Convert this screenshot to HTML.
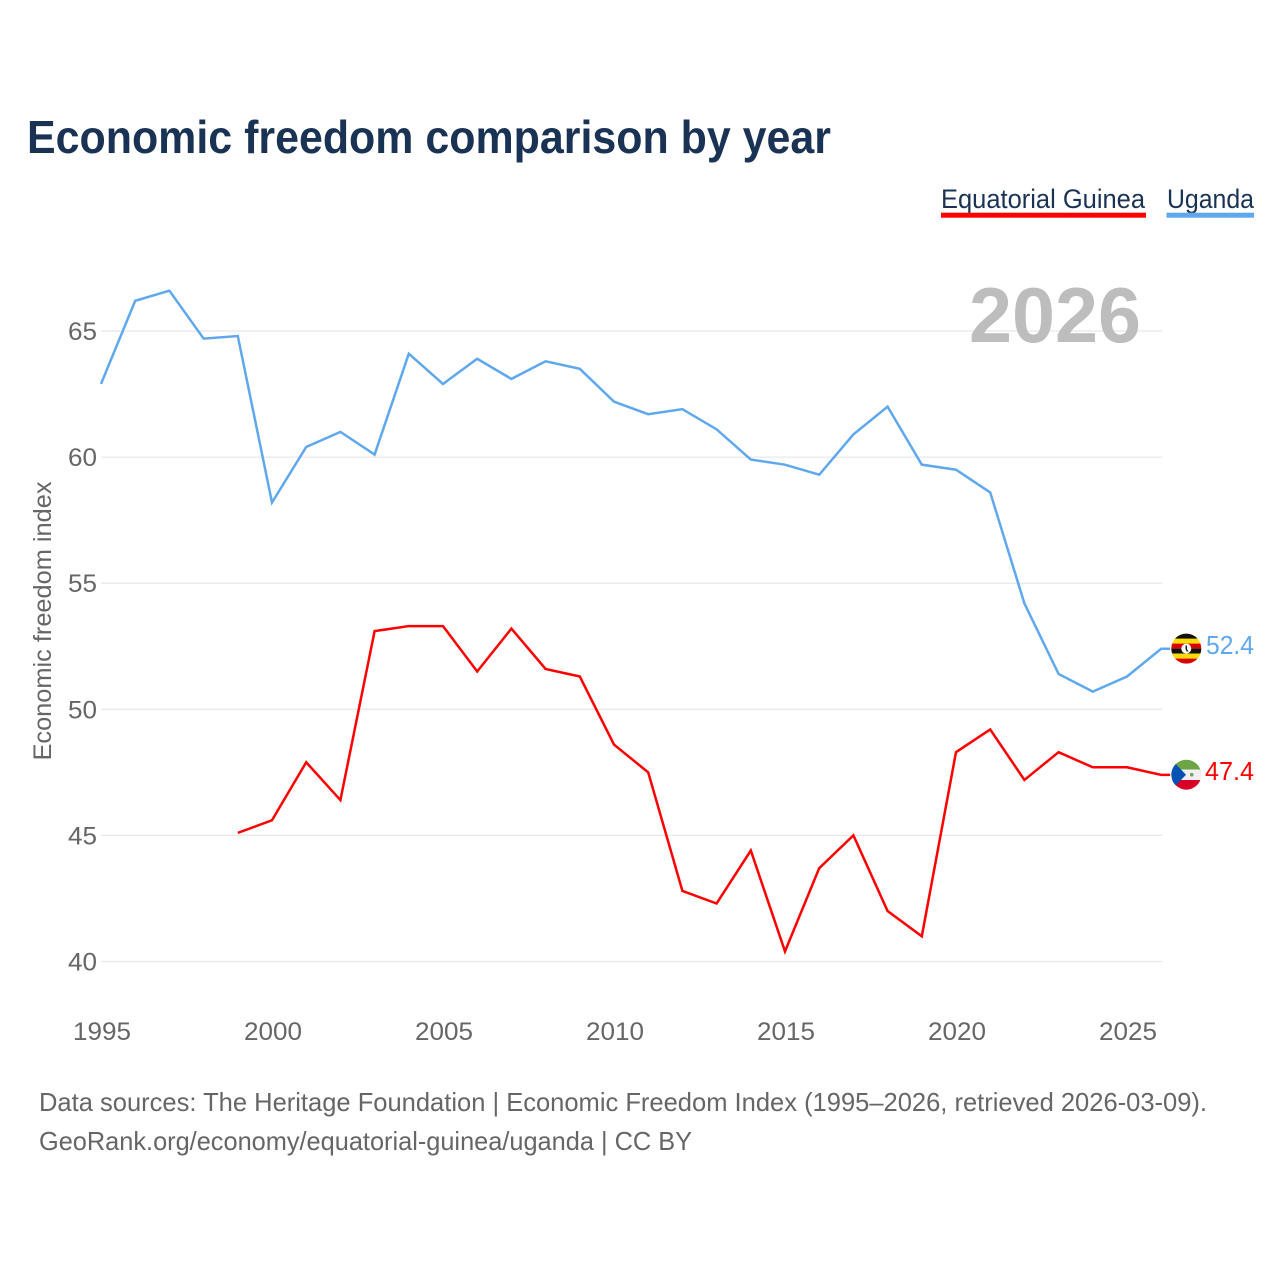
<!DOCTYPE html>
<html lang="en">
<head>
<meta charset="utf-8">
<title>Economic freedom comparison by year</title>
<style>
html,body{margin:0;padding:0;background:#fff}
svg{display:block}
text{font-family:"Liberation Sans",sans-serif}
</style>
</head>
<body>
<svg id="chart" xmlns="http://www.w3.org/2000/svg" width="1280" height="1280" viewBox="0 0 1280 1280">
  <defs>
    <clipPath id="clip-ug"><circle cx="1186.3" cy="648.6" r="15"></circle></clipPath>
    <clipPath id="clip-gq"><circle cx="1186.3" cy="774.7" r="15"></circle></clipPath>
  </defs>
  <rect width="1280" height="1280" fill="#ffffff"></rect>
  <text x="27" y="153" font-size="46" font-weight="700" fill="#1a3354" textLength="804" lengthAdjust="spacingAndGlyphs">Economic freedom comparison by year</text>

  <g>
    <text x="941" y="208" font-size="27" fill="#1a3354" textLength="204" lengthAdjust="spacingAndGlyphs">Equatorial Guinea</text>
    <rect x="941" y="212.7" width="205" height="5" fill="#ff0000"></rect>
  </g>
  <g>
    <text x="1167" y="208" font-size="27" fill="#1a3354" textLength="87" lengthAdjust="spacingAndGlyphs">Uganda</text>
    <rect x="1166.5" y="212.7" width="87.5" height="5" fill="#5fa8ee"></rect>
  </g>

  <g id="grid"></g>
  <text x="1141" y="342" text-anchor="end" font-size="78" font-weight="700" fill="#bdbdbd" textLength="172" lengthAdjust="spacingAndGlyphs">2026</text>
  <g id="y-ticks"></g>
  <g id="x-ticks"></g>
  <text transform="translate(51 621) rotate(-90)" text-anchor="middle" font-size="25" fill="#666666" textLength="279" lengthAdjust="spacingAndGlyphs">Economic freedom index</text>
  <g id="series"></g>

  <g id="flag-uganda" clip-path="url(#clip-ug)">
    <rect x="1171" y="633" width="31" height="6" fill="#111111"></rect>
    <rect x="1171" y="638.6" width="31" height="5" fill="#fcdc04"></rect>
    <rect x="1171" y="643.6" width="31" height="5" fill="#d90000"></rect>
    <rect x="1171" y="648.6" width="31" height="5" fill="#111111"></rect>
    <rect x="1171" y="653.6" width="31" height="5" fill="#fcdc04"></rect>
    <rect x="1171" y="658.6" width="31" height="6" fill="#d90000"></rect>
    <circle cx="1186.3" cy="648.6" r="5" fill="#ffffff"></circle>
    <path d="M1185.5 645.5 L1187 645.5 L1187 649 L1188.5 651.5 L1186.5 651.5 L1185.5 649 Z" fill="#222222"></path>
  </g>
  <g id="flag-eq-guinea" clip-path="url(#clip-gq)">
    <rect x="1171" y="759" width="31" height="10.5" fill="#6da544"></rect>
    <rect x="1171" y="769.5" width="31" height="10.5" fill="#f0f0f0"></rect>
    <rect x="1171" y="780" width="31" height="11" fill="#d80027"></rect>
    <path d="M1171 759 L1186 774.7 L1171 790.5 Z" fill="#0052b4"></path>
    <circle cx="1191.7" cy="774.7" r="1.8" fill="#7a9a6a"></circle>
  </g>
  <text id="label-ug" x="1254" y="654" text-anchor="end" font-size="26" fill="#5fa8ee" textLength="48" lengthAdjust="spacingAndGlyphs"></text>
  <text id="label-gq" x="1254" y="780" text-anchor="end" font-size="26" fill="#ff0000" textLength="49" lengthAdjust="spacingAndGlyphs"></text>

  <text x="39" y="1111" font-size="26" fill="#666666" textLength="1168" lengthAdjust="spacingAndGlyphs">Data sources: The Heritage Foundation | Economic Freedom Index (1995–2026, retrieved 2026-03-09).</text>
  <text x="39" y="1150" font-size="26" fill="#666666" textLength="653" lengthAdjust="spacingAndGlyphs">GeoRank.org/economy/equatorial-guinea/uganda | CC BY</text>
</svg>
<script>
const years = [1995,1996,1997,1998,1999,2000,2001,2002,2003,2004,2005,2006,2007,2008,2009,2010,2011,2012,2013,2014,2015,2016,2017,2018,2019,2020,2021,2022,2023,2024,2025,2026];
const ugandaValues = [62.9,66.2,66.6,64.7,64.8,58.2,60.4,61.0,60.1,64.1,62.9,63.9,63.1,63.8,63.5,62.2,61.7,61.9,61.1,59.9,59.7,59.3,60.9,62.0,59.7,59.5,58.6,54.2,51.4,50.7,51.3,52.4];
const eqGuineaValues = [null,null,null,null,45.1,45.6,47.9,46.4,53.1,53.3,53.3,51.5,53.2,51.6,51.3,48.6,47.5,42.8,42.3,44.4,40.4,43.7,45.0,42.0,41.0,48.3,49.2,47.2,48.3,47.7,47.7,47.4];
const yTickValues = [40,45,50,55,60,65];
const xTickValues = [1995,2000,2005,2010,2015,2020,2025];

const NS = 'http://www.w3.org/2000/svg';
function xScale(year){ return 101 + (year - 1995) * (1161.2 - 101) / 31; }
function yScale(value){ return 961.5 - (value - 40) * (961.5 - 331) / 25; }

const gridGroup = document.getElementById('grid');
const yTickGroup = document.getElementById('y-ticks');
yTickValues.forEach(function(v){
  const line = document.createElementNS(NS,'line');
  line.setAttribute('x1', 101);
  line.setAttribute('x2', 1162);
  line.setAttribute('y1', yScale(v));
  line.setAttribute('y2', yScale(v));
  line.setAttribute('stroke', '#e8e8e8');
  line.setAttribute('stroke-width', '1.3');
  
  
  gridGroup.appendChild(line);
  const t = document.createElementNS(NS,'text');
  t.setAttribute('x', 97);
  t.setAttribute('y', yScale(v) + 9);
  t.setAttribute('text-anchor', 'end');
  t.setAttribute('font-size', '25');
  t.setAttribute('fill', '#666666');
  t.setAttribute('textLength', '29');
  t.setAttribute('lengthAdjust', 'spacingAndGlyphs');
  t.textContent = v;
  
  
  yTickGroup.appendChild(t);
});

const xTickGroup = document.getElementById('x-ticks');
xTickValues.forEach(function(y){
  const t = document.createElementNS(NS,'text');
  t.setAttribute('x', xScale(y) + 1);
  t.setAttribute('y', 1040);
  t.setAttribute('text-anchor', 'middle');
  t.setAttribute('font-size', '25');
  t.setAttribute('fill', '#666666');
  t.setAttribute('textLength', '58');
  t.setAttribute('lengthAdjust', 'spacingAndGlyphs');
  t.textContent = y;
  
  
  xTickGroup.appendChild(t);
});

function linePath(values){
  let d = '';
  values.forEach(function(v, i){
    if (v === null) return;
    d += (d ? ' L' : 'M') + xScale(years[i]).toFixed(2) + ' ' + yScale(v).toFixed(2);
  });
  const last = values[values.length - 1];
  d += ' L' + (xScale(years[years.length - 1]) + 9).toFixed(2) + ' ' + yScale(last).toFixed(2);
  return d;
}
const seriesGroup = document.getElementById('series');
const ugandaLine = document.createElementNS(NS,'path');
ugandaLine.setAttribute('d', linePath(ugandaValues));
ugandaLine.setAttribute('fill', 'none');
ugandaLine.setAttribute('stroke', '#5fa8ee');
ugandaLine.setAttribute('stroke-width', '2.5');


seriesGroup.appendChild(ugandaLine);
const eqGuineaLine = document.createElementNS(NS,'path');
eqGuineaLine.setAttribute('d', linePath(eqGuineaValues));
eqGuineaLine.setAttribute('fill', 'none');
eqGuineaLine.setAttribute('stroke', '#ff0000');
eqGuineaLine.setAttribute('stroke-width', '2.5');


seriesGroup.appendChild(eqGuineaLine);

document.getElementById('label-ug').textContent = ugandaValues[ugandaValues.length - 1].toFixed(1);
document.getElementById('label-gq').textContent = eqGuineaValues[eqGuineaValues.length - 1].toFixed(1);
</script>
</body>
</html>
